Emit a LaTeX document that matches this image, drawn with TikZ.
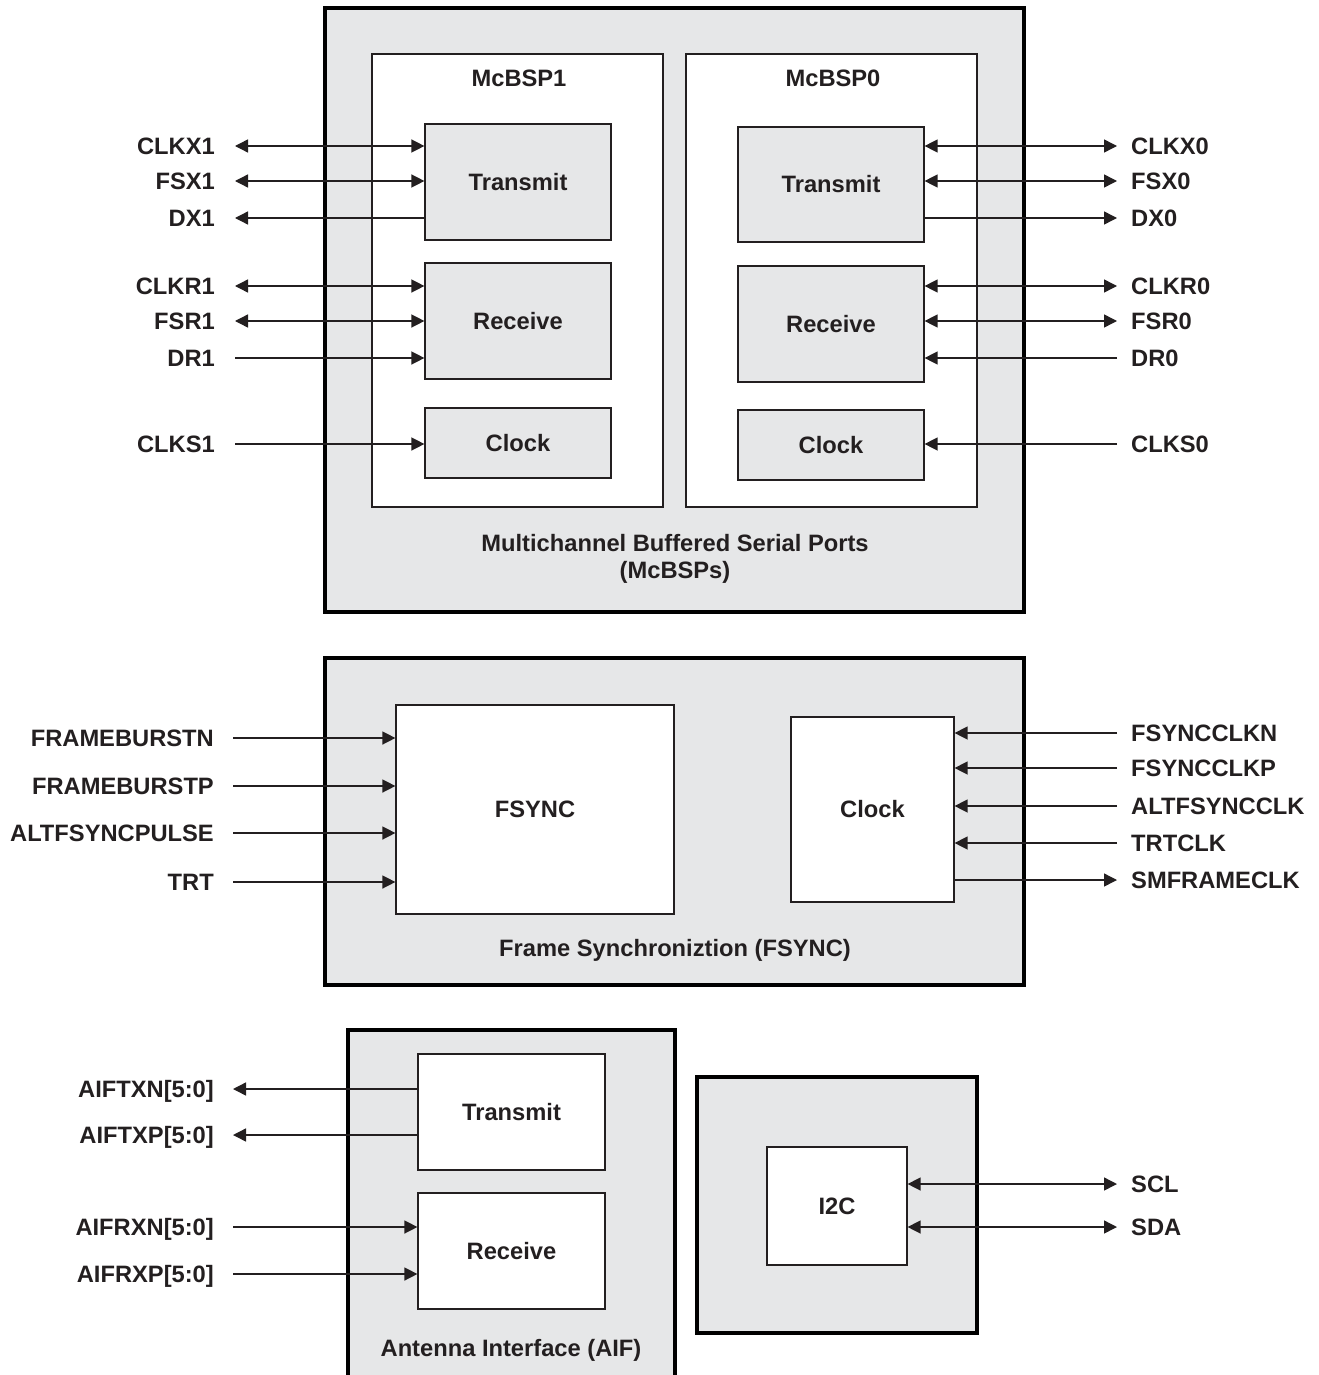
\documentclass[tikz,border=0pt]{standalone}
\usepackage{fontspec}
\setmainfont{Liberation Sans}
\usetikzlibrary{arrows.meta}
\definecolor{boxgray}{HTML}{E6E7E8}
\definecolor{ink}{HTML}{231F20}
\begin{document}
\begin{tikzpicture}[x=1pt,y=-1pt,
  >={Triangle[length=13pt,width=13pt]},
  txt/.style={font=\fontsize{23.7}{27}\selectfont\bfseries, text=ink},
  lab/.style={txt, inner sep=0pt, text height=17pt, text depth=0pt},
  outerbox/.style={draw=black, line width=3.5pt, fill=boxgray, inner sep=0pt},
  whitebox/.style={draw=ink, line width=1.2pt, fill=white, inner sep=0pt, txt},
  graybox/.style={draw=ink, line width=1.2pt, fill=boxgray, inner sep=0pt, txt},
  conn/.style={draw=ink, line width=1.4pt}]
\useasboundingbox (0,0) rectangle (1318,1375);
\begin{scope}
\clip (0,0) rectangle (1318,1375);
% ---------------- McBSP ----------------
\node[outerbox, minimum width=699pt, minimum height=604pt] (mcbsp) at (674.5,310) {};
\node[whitebox, minimum width=291pt, minimum height=453pt] (m1) at (517.5,280.5) {};
\node[whitebox, minimum width=291pt, minimum height=453pt] (m0) at (831.5,280.5) {};
\node[txt] (m1t) at (519,78) {McBSP1};
\node[txt] (m0t) at (833,78) {McBSP0};
\node[graybox, minimum width=186pt, minimum height=116pt] (tx1) at (518,182) {Transmit};
\node[graybox, minimum width=186pt, minimum height=116pt] (rx1) at (518,321) {Receive};
\node[graybox, minimum width=186pt, minimum height=70pt] (ck1) at (518,443) {Clock};
\node[graybox, minimum width=186pt, minimum height=115pt] (tx0) at (831,184.5) {Transmit};
\node[graybox, minimum width=186pt, minimum height=116pt] (rx0) at (831,324) {Receive};
\node[graybox, minimum width=186pt, minimum height=70pt] (ck0) at (831,445) {Clock};
\node[txt, align=center, inner sep=0pt] (mcap) at (675,559) {Multichannel Buffered Serial Ports\\(McBSPs)};
% labels left
\node[lab, anchor=east] (clkxa) at (215,146) {CLKX1};
\node[lab, anchor=east] (fsxa) at (215,181) {FSX1};
\node[lab, anchor=east] (dxa) at (215,218) {DX1};
\node[lab, anchor=east] (clkra) at (215,286) {CLKR1};
\node[lab, anchor=east] (fsra) at (215,321) {FSR1};
\node[lab, anchor=east] (dra) at (215,358) {DR1};
\node[lab, anchor=east] (clksa) at (215,444) {CLKS1};
% labels right
\node[lab, anchor=west] (clkxb) at (1131,146) {CLKX0};
\node[lab, anchor=west] (fsxb) at (1131,181) {FSX0};
\node[lab, anchor=west] (dxb) at (1131,218) {DX0};
\node[lab, anchor=west] (clkrb) at (1131,286) {CLKR0};
\node[lab, anchor=west] (fsrb) at (1131,321) {FSR0};
\node[lab, anchor=west] (drb) at (1131,358) {DR0};
\node[lab, anchor=west] (clksb) at (1131,444) {CLKS0};
% connectors left
\draw[conn,<->] ([xshift=20pt]clkxa.east) -- (clkxa -| tx1.west);
\draw[conn,<->] ([xshift=20pt]fsxa.east) -- (fsxa -| tx1.west);
\draw[conn,<-] ([xshift=20pt]dxa.east) -- (dxa -| tx1.west);
\draw[conn,<->] ([xshift=20pt]clkra.east) -- (clkra -| rx1.west);
\draw[conn,<->] ([xshift=20pt]fsra.east) -- (fsra -| rx1.west);
\draw[conn,->] ([xshift=20pt]dra.east) -- (dra -| rx1.west);
\draw[conn,->] ([xshift=20pt]clksa.east) -- (clksa -| ck1.west);
% connectors right
\draw[conn,<->] ([xshift=-14pt]clkxb.west) -- (clkxb -| tx0.east);
\draw[conn,<->] ([xshift=-14pt]fsxb.west) -- (fsxb -| tx0.east);
\draw[conn,<-] ([xshift=-14pt]dxb.west) -- (dxb -| tx0.east);
\draw[conn,<->] ([xshift=-14pt]clkrb.west) -- (clkrb -| rx0.east);
\draw[conn,<->] ([xshift=-14pt]fsrb.west) -- (fsrb -| rx0.east);
\draw[conn,->] ([xshift=-14pt]drb.west) -- (drb -| rx0.east);
\draw[conn,->] ([xshift=-14pt]clksb.west) -- (clksb -| ck0.east);
% ---------------- FSYNC ----------------
\node[outerbox, minimum width=699pt, minimum height=327pt] (fsout) at (674.5,821.5) {};
\node[whitebox, minimum width=278pt, minimum height=209pt] (fsync) at (535,809.5) {FSYNC};
\node[whitebox, minimum width=163pt, minimum height=185pt] (fclk) at (872.5,809.5) {Clock};
\node[txt, inner sep=0pt] (fcap) at (675,950) {Frame Synchroniztion (FSYNC)};
\node[lab, anchor=east] (fbn) at (214,738) {FRAMEBURSTN};
\node[lab, anchor=east] (fbp) at (214,786) {FRAMEBURSTP};
\node[lab, anchor=east] (afp) at (214,833) {ALTFSYNCPULSE};
\node[lab, anchor=east] (trt) at (214,882) {TRT};
\node[lab, anchor=west] (fcn) at (1131,733) {FSYNCCLKN};
\node[lab, anchor=west] (fcp) at (1131,768) {FSYNCCLKP};
\node[lab, anchor=west] (afc) at (1131,806) {ALTFSYNCCLK};
\node[lab, anchor=west] (trtc) at (1131,843) {TRTCLK};
\node[lab, anchor=west] (smf) at (1131,880) {SMFRAMECLK};
\draw[conn,->] ([xshift=19pt]fbn.east) -- (fbn -| fsync.west);
\draw[conn,->] ([xshift=19pt]fbp.east) -- (fbp -| fsync.west);
\draw[conn,->] ([xshift=19pt]afp.east) -- (afp -| fsync.west);
\draw[conn,->] ([xshift=19pt]trt.east) -- (trt -| fsync.west);
\draw[conn,->] ([xshift=-14pt]fcn.west) -- (fcn -| fclk.east);
\draw[conn,->] ([xshift=-14pt]fcp.west) -- (fcp -| fclk.east);
\draw[conn,->] ([xshift=-14pt]afc.west) -- (afc -| fclk.east);
\draw[conn,->] ([xshift=-14pt]trtc.west) -- (trtc -| fclk.east);
\draw[conn,<-] ([xshift=-14pt]smf.west) -- (smf -| fclk.east);
% ---------------- AIF ----------------
\fill[boxgray] (348,1030) rectangle (675,1390);
\draw[line width=3.5pt] (348,1390) -- (348,1030) -- (675,1030) -- (675,1390);
\node[whitebox, minimum width=187pt, minimum height=116pt] (atx) at (511.5,1112) {Transmit};
\node[whitebox, minimum width=187pt, minimum height=116pt] (arx) at (511.5,1251) {Receive};
\node[txt, inner sep=0pt] (acap) at (511,1350) {Antenna Interface (AIF)};
\node[lab, anchor=east] (atxn) at (214,1089) {AIFTXN[5:0]};
\node[lab, anchor=east] (atxp) at (214,1135) {AIFTXP[5:0]};
\node[lab, anchor=east] (arxn) at (214,1227) {AIFRXN[5:0]};
\node[lab, anchor=east] (arxp) at (214,1274) {AIFRXP[5:0]};
\draw[conn,<-] ([xshift=19pt]atxn.east) -- (atxn -| atx.west);
\draw[conn,<-] ([xshift=19pt]atxp.east) -- (atxp -| atx.west);
\draw[conn,->] ([xshift=19pt]arxn.east) -- (arxn -| arx.west);
\draw[conn,->] ([xshift=19pt]arxp.east) -- (arxp -| arx.west);
% ---------------- I2C ----------------
\node[outerbox, minimum width=280pt, minimum height=256pt] (i2out) at (837,1205) {};
\node[whitebox, minimum width=140pt, minimum height=118pt] (i2c) at (837,1206) {I2C};
\node[lab, anchor=west] (scl) at (1131,1184) {SCL};
\node[lab, anchor=west] (sda) at (1131,1227) {SDA};
\draw[conn,<->] ([xshift=-14pt]scl.west) -- (scl -| i2c.east);
\draw[conn,<->] ([xshift=-14pt]sda.west) -- (sda -| i2c.east);
\end{scope}
\end{tikzpicture}
\end{document}
